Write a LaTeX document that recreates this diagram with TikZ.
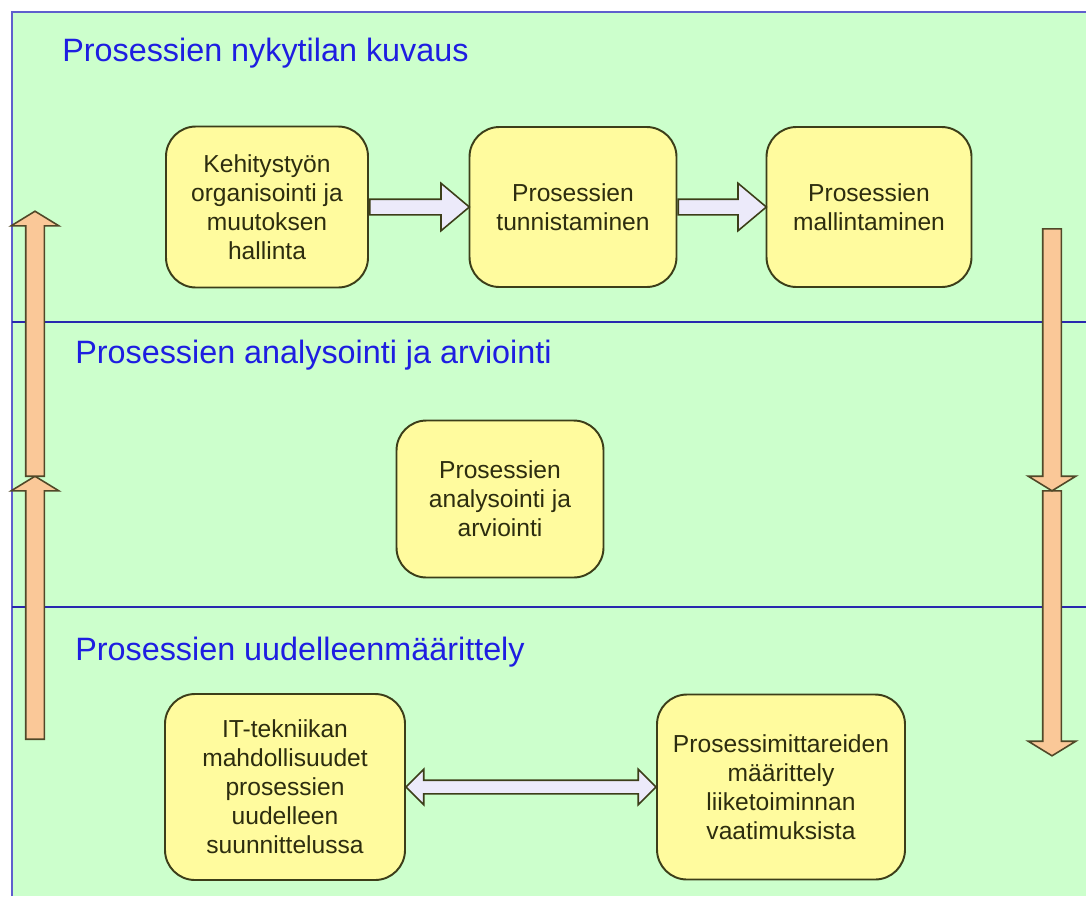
\documentclass[tikz,border=0pt]{standalone}
\usepackage{fontspec}
\setmainfont{Liberation Sans}
\usepackage{tikz}
\usetikzlibrary{positioning,shapes.arrows,calc}

\definecolor{tausta}{RGB}{204,255,204}
\definecolor{kehys}{RGB}{95,95,205}
\definecolor{viiva}{RGB}{40,40,175}
\definecolor{otsikko}{RGB}{30,30,225}
\definecolor{laatikko}{RGB}{255,251,158}
\definecolor{reuna}{RGB}{60,62,25}
\definecolor{teksti}{RGB}{45,45,15}
\definecolor{persikka}{RGB}{250,200,152}
\definecolor{nuolireuna}{RGB}{80,72,40}
\definecolor{laventeli}{RGB}{236,234,250}

\tikzset{
  bigarrow/.style={single arrow, draw=nuolireuna, fill=persikka, line width=0.9pt,
    inner sep=0.17cm, minimum width=1pt, single arrow head extend=0.29cm,
    single arrow tip angle=117},
  flowarrow/.style={single arrow, draw=reuna, fill=laventeli, line width=0.9pt,
    inner sep=0.14cm, minimum width=1pt, single arrow head extend=0.32cm,
    single arrow tip angle=80},
  botharrow/.style={double arrow, draw=reuna, fill=laventeli, line width=0.9pt,
    inner sep=0.12cm, minimum width=1pt, double arrow head extend=0.22cm,
    double arrow tip angle=90},
  fat/.style={to path={let \p1=($(\tikztotarget)-(\tikztostart)$),
    \n1={veclen(\x1,\y1)}, \n2={atan2(\y1,\x1)} in
    node[#1, minimum height=\n1, rotate=\n2, anchor=tail] at (\tikztostart) {}}},
  fatboth/.style={to path={let \p1=($(\tikztotarget)-(\tikztostart)$),
    \n1={veclen(\x1,\y1)}, \n2={atan2(\y1,\x1)} in
    node[#1, minimum height=\n1, rotate=\n2, anchor=center]
    at ($(\tikztostart)!0.5!(\tikztotarget)$) {}}}
}

\begin{document}
\begin{tikzpicture}[node distance=2cm,on grid,
  phase/.style={draw=reuna, fill=laatikko, rounded corners=0.6cm, line width=1.1pt,
    align=center, text=teksti, font=\fontsize{14}{16.5}\selectfont},
  heading/.style={anchor=base west, inner sep=0pt, text=otsikko,
    font=\fontsize{18.4}{22}\selectfont}]
% background and the three bands
   \useasboundingbox (0,0) rectangle (21.72,-17.92);
   \fill[tausta] (0.24,-0.24) rectangle (21.72,-17.92);
   \draw[kehys, line width=1.6pt] (0.24,-17.92) -- (0.24,-0.24) -- (21.72,-0.24);
   \draw[viiva, line width=1.2pt] (0.24,-6.44) -- (21.72,-6.44);
   \draw[viiva, line width=1.2pt] (0.24,-12.14) -- (21.72,-12.14);
   \node[heading] (t_nyky) at (1.24,-1.22) {Prosessien nykytilan kuvaus};
   \node[heading] (t_anal) at (1.5,-7.26) {Prosessien analysointi ja arviointi};
   \node[heading] (t_uusi) at (1.5,-13.2) {Prosessien uudelleenmäärittely};
% Here are the phases of each band
   \node[phase, minimum width=4.04cm, minimum height=3.22cm] (kehit) at (5.34,-4.14)
     {Kehitystyön\\organisointi ja\\muutoksen\\hallinta};
   \node[phase, minimum width=4.14cm, minimum height=3.2cm] (tunnist) [right=6.12cm of kehit]
     {Prosessien\\tunnistaminen};
   \node[phase, minimum width=4.1cm, minimum height=3.2cm] (mallin) [right=5.92cm of tunnist]
     {Prosessien\\mallintaminen};
   \node[phase, minimum width=4.14cm, minimum height=3.14cm] (analyys) at (10,-9.98)
     {Prosessien\\analysointi ja\\arviointi};
   \node[phase, minimum width=4.8cm, minimum height=3.72cm] (ittekn) at (5.7,-15.74)
     {IT-tekniikan\\mahdollisuudet\\prosessien\\uudelleen\\suunnittelussa};
   \node[phase, minimum width=4.96cm, minimum height=3.7cm] (mittar) [right=9.92cm of ittekn]
     {Prosessimittareiden\\määrittely\\liiketoiminnan\\vaatimuksista};
% free ends of the big side arrows
   \coordinate (l_0) at (0.7,-14.8);
   \coordinate (l_1) at (0.7,-9.54);
   \coordinate (l_2) at (0.7,-4.24);
   \coordinate (r_0) at (21.04,-4.56);
   \coordinate (r_1) at (21.04,-9.8);
   \coordinate (r_2) at (21.04,-15.1);
% Here are the arrows
   \path (l_0) to[fat=bigarrow] (l_1)
         (l_1) to[fat=bigarrow] (l_2)
         (r_1) to[fat=bigarrow] (r_2)
         (r_0) to[fat=bigarrow] (r_1);
   \path (kehit.east) to[fat=flowarrow] (tunnist.west)
         (tunnist.east) to[fat=flowarrow] (mallin.west)
         (ittekn.east) to[fatboth=botharrow] (mittar.west);
\end{tikzpicture}
\end{document}
